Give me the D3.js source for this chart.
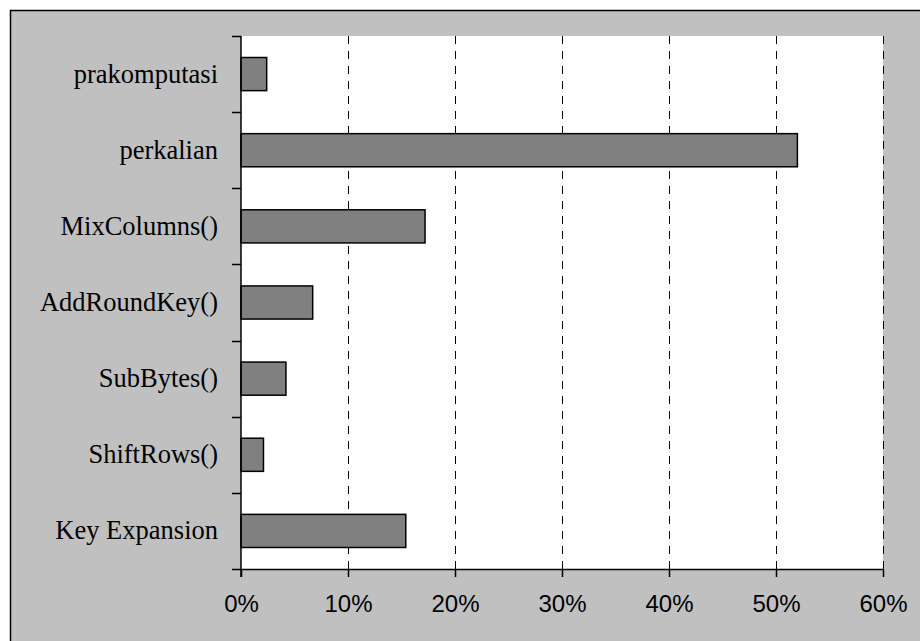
<!DOCTYPE html>
<html>
<head>
<meta charset="utf-8">
<script src="https://cdn.jsdelivr.net/npm/d3@7"></script>
<style>
  html, body { margin: 0; padding: 0; background: #ffffff; }
  svg { display: block; }
</style>
</head>
<body>
<svg id="chart" width="920" height="641"></svg>
<script>
// Share of processing time per step (fraction of total)
const categories = ["prakomputasi", "perkalian", "MixColumns()", "AddRoundKey()", "SubBytes()", "ShiftRows()", "Key Expansion"];
const values = [0.024, 0.520, 0.172, 0.067, 0.042, 0.021, 0.154];
const xTicks = [0, 0.1, 0.2, 0.3, 0.4, 0.5, 0.6];

const svg = d3.select("#chart");
const W = 920, H = 641;
const plot = { left: 241, right: 883, top: 36, bottom: 569 };

// Chart area: grey panel with a black frame
svg.append("rect")
  .attr("x", 10.5).attr("y", 10.5)
  .attr("width", W + 20).attr("height", H + 20)
  .attr("fill", "#c0c0c0")
  .attr("stroke", "#000").attr("stroke-width", 1.5);

// White plot area
svg.append("rect")
  .attr("x", plot.left).attr("y", plot.top)
  .attr("width", plot.right - plot.left).attr("height", plot.bottom - plot.top)
  .attr("fill", "#ffffff");

const x = d3.scaleLinear().domain([0, 0.6]).range([plot.left, plot.right]);
const pad = 0.565;
const y = d3.scaleBand().domain(categories)
  .range([plot.top, plot.bottom])
  .paddingInner(pad).paddingOuter(pad / 2);

// Dashed vertical gridlines
svg.append("g").selectAll("line")
  .data(xTicks.filter(d => d > 0))
  .join("line")
  .attr("x1", d => Math.round(x(d)) + 0.5).attr("x2", d => Math.round(x(d)) + 0.5)
  .attr("y1", plot.top).attr("y2", plot.bottom)
  .attr("stroke", "#000").attr("stroke-width", 1)
  .attr("stroke-dasharray", "8,7");

// Bars
svg.append("g").selectAll("rect")
  .data(categories.map((c, i) => ({ c, v: values[i] })))
  .join("rect")
  .attr("x", x(0))
  .attr("y", d => y(d.c))
  .attr("width", d => x(d.v) - x(0))
  .attr("height", y.bandwidth())
  .attr("fill", "#808080")
  .attr("stroke", "#000").attr("stroke-width", 1.5);

// Bottom axis with percentage labels
const xAxis = svg.append("g")
  .attr("transform", `translate(0,${plot.bottom})`)
  .call(d3.axisBottom(x).tickValues(xTicks).tickFormat(d3.format(".0%")).tickSize(8).tickPadding(18).tickSizeOuter(0));
xAxis.select(".domain").attr("stroke", "#000").attr("stroke-width", 1.5);
xAxis.selectAll(".tick line").attr("stroke", "#000").attr("stroke-width", 1.5);
xAxis.selectAll("text")
  .attr("font-family", "Liberation Sans, Arial, sans-serif")
  .attr("font-size", 24).attr("fill", "#000");

// Left axis: category labels at band centres, tick marks between bands
const yAxis = svg.append("g")
  .attr("transform", `translate(${plot.left},0)`)
  .call(d3.axisLeft(y).tickSize(0).tickPadding(23));
yAxis.select(".domain").remove();
yAxis.selectAll("text")
  .attr("font-family", "Liberation Serif, Times New Roman, serif")
  .attr("font-size", 26.5).attr("fill", "#000");

const step = y.step();
const boundaries = d3.range(categories.length + 1).map(i => y.range()[0] + i * step);
svg.append("g").selectAll("line")
  .data(boundaries)
  .join("line")
  .attr("x1", plot.left - 9).attr("x2", plot.left)
  .attr("y1", d => Math.round(d) + 0.5).attr("y2", d => Math.round(d) + 0.5)
  .attr("stroke", "#000").attr("stroke-width", 1.5);

svg.append("line")
  .attr("x1", plot.left).attr("x2", plot.left)
  .attr("y1", plot.top).attr("y2", plot.bottom + 8)
  .attr("stroke", "#000").attr("stroke-width", 1.5);
</script>
</body>
</html>
